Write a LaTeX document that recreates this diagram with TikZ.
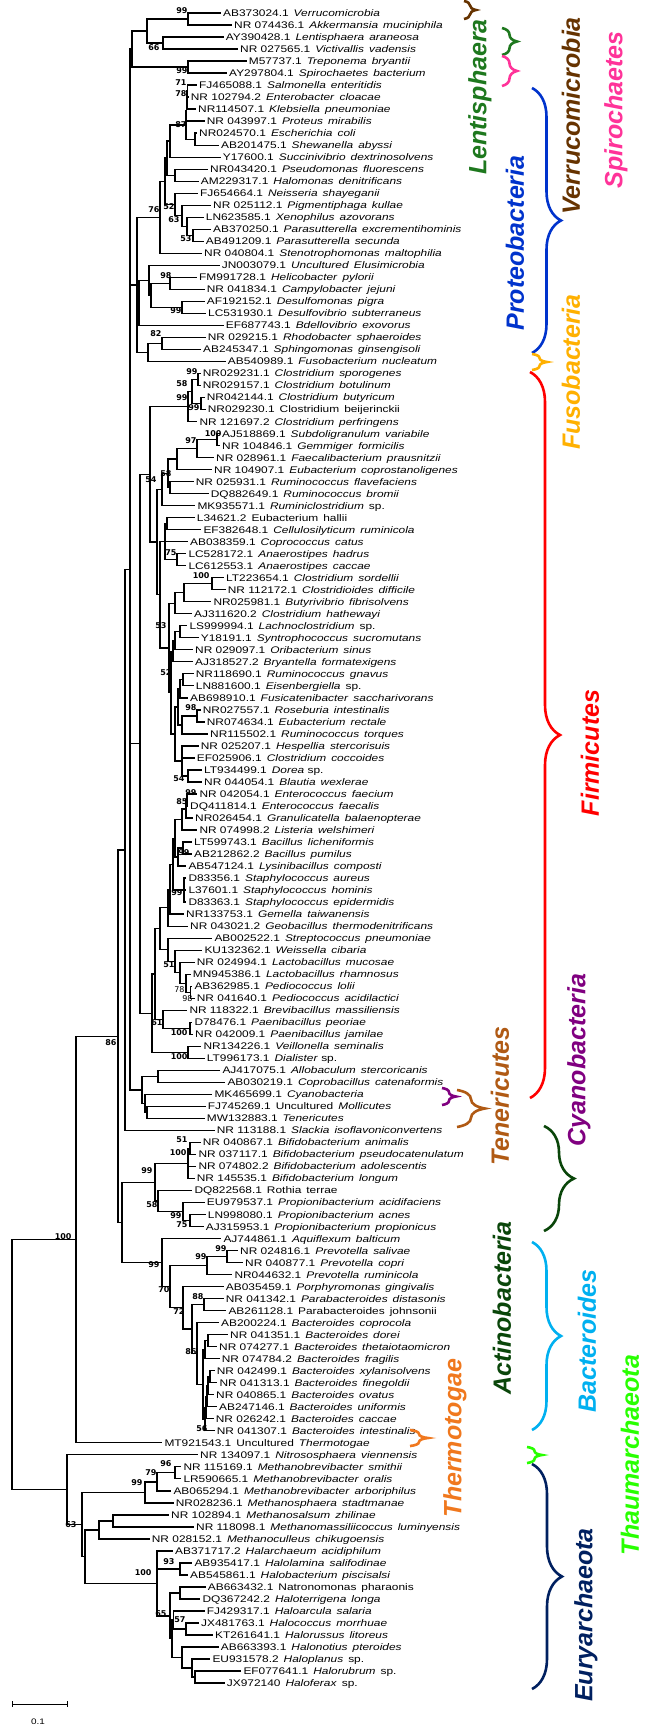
\documentclass[tikz,border=0pt]{standalone}
\usepackage{fontspec}
\setmainfont{Liberation Sans}[FakeStretch=1.24]
\newfontfamily\bsf{DejaVu Sans}
\newfontfamily\grpf{Liberation Sans}
\usetikzlibrary{calc,decorations.pathreplacing}
\definecolor{cverr}{RGB}{102,51,0}
\definecolor{clent}{RGB}{30,120,30}
\definecolor{cspir}{RGB}{255,51,153}
\definecolor{cprot}{RGB}{0,51,204}
\definecolor{cfuso}{RGB}{255,176,0}
\definecolor{cfirm}{RGB}{255,0,0}
\definecolor{ccyan}{RGB}{128,0,128}
\definecolor{ctene}{RGB}{176,90,20}
\definecolor{cacti}{RGB}{10,70,10}
\definecolor{cbact}{RGB}{0,176,240}
\definecolor{cthau}{RGB}{40,255,0}
\definecolor{cther}{RGB}{240,120,30}
\definecolor{ceury}{RGB}{0,32,96}
\newcommand\myit[1]{\textit{#1}}
\newcommand\mygap{\hspace{5pt}}
\newcommand\leaf[3]{%
  \coordinate (L#1) at (#2,{13+12.015*(#1-1)});
  \node[leaf] (T#1) at (#2,{16.5+12.015*(#1-1)}) {#3};}
\newcommand\nd[5]{%
  \coordinate (tmpA) at ($(#3)!0.5!(#4)$);
  \coordinate (tmpB) at (#2,0);
  \coordinate (#1) at (tmpA -| tmpB);
  \foreach \c in {#5} {\draw[tree] (#1) |- (\c);}}
\newcommand\bs[4]{\node[bs] (#1) at (#2,#3) {#4};}
\begin{document}
\begin{tikzpicture}[x=1pt,y=-1pt,
  tree/.style={line width=1.3pt},
  leaf/.style={anchor=base west, inner xsep=2pt, inner ysep=0pt, font=\fontsize{9.6}{10}\selectfont},
  bs/.style={anchor=east, inner sep=0.3pt, font=\bsf\bfseries\fontsize{8}{8}\selectfont},
  bsr/.style={anchor=east, inner sep=0.3pt, font=\bsf\fontsize{8}{8}\selectfont},
  grp/.style={rotate=90, inner sep=0pt, font=\grpf\bfseries\itshape\fontsize{25}{25}\selectfont},
  brc/.style={decorate, decoration={brace, amplitude=#1}, line width=2.6pt}]
\fill[white] (0,0) rectangle (648,1731);
\useasboundingbox (0,0) rectangle (648,1731);
% ---------- leaves ----------
\leaf{1}{221}{AB373024.1\mygap\myit{Verrucomicrobia}}
\leaf{2}{232}{NR 074436.1\mygap\myit{Akkermansia}\mygap\myit{muciniphila}}
\leaf{3}{223.7}{AY390428.1\mygap\myit{Lentisphaera}\mygap\myit{araneosa}}
\leaf{4}{238}{NR 027565.1\mygap\myit{Victivallis}\mygap\myit{vadensis}}
\leaf{5}{246.7}{M57737.1\mygap\myit{Treponema}\mygap\myit{bryantii}}
\leaf{6}{227}{AY297804.1\mygap\myit{Spirochaetes}\mygap\myit{bacterium}}
\leaf{7}{197}{FJ465088.1\mygap\myit{Salmonella}\mygap\myit{enteritidis}}
\leaf{8}{188.7}{NR 102794.2\mygap\myit{Enterobacter}\mygap\myit{cloacae}}
\leaf{9}{196}{NR114507.1\mygap\myit{Klebsiella}\mygap\myit{pneumoniae}}
\leaf{10}{204.7}{NR 043997.1\mygap\myit{Proteus}\mygap\myit{mirabilis}}
\leaf{11}{197}{NR024570.1\mygap\myit{Escherichia}\mygap\myit{coli}}
\leaf{12}{219}{AB201475.1\mygap\myit{Shewanella}\mygap\myit{abyssi}}
\leaf{13}{220.7}{Y17600.1\mygap\myit{Succinivibrio}\mygap\myit{dextrinosolvens}}
\leaf{14}{208}{NR043420.1\mygap\myit{Pseudomonas}\mygap\myit{fluorescens}}
\leaf{15}{198.7}{AM229317.1\mygap\myit{Halomonas}\mygap\myit{denitrificans}}
\leaf{16}{198}{FJ654664.1\mygap\myit{Neisseria}\mygap\myit{shayeganii}}
\leaf{17}{211}{NR 025112.1\mygap\myit{Pigmentiphaga}\mygap\myit{kullae}}
\leaf{18}{203.7}{LN623585.1\mygap\myit{Xenophilus}\mygap\myit{azovorans}}
\leaf{19}{211}{AB370250.1\mygap\myit{Parasutterella}\mygap\myit{excrementihominis}}
\leaf{20}{203.7}{AB491209.1\mygap\myit{Parasutterella}\mygap\myit{secunda}}
\leaf{21}{202}{NR 040804.1\mygap\myit{Stenotrophomonas}\mygap\myit{maltophilia}}
\leaf{22}{219.7}{JN003079.1\mygap\myit{Uncultured}\mygap\myit{Elusimicrobia}}
\leaf{23}{197}{FM991728.1\mygap\myit{Helicobacter}\mygap\myit{pylorii}}
\leaf{24}{204.7}{NR 041834.1\mygap\myit{Campylobacter}\mygap\myit{jejuni}}
\leaf{25}{204.7}{AF192152.1\mygap\myit{Desulfomonas}\mygap\myit{pigra}}
\leaf{26}{206}{LC531930.1\mygap\myit{Desulfovibrio}\mygap\myit{subterraneus}}
\leaf{27}{223.7}{EF687743.1\mygap\myit{Bdellovibrio}\mygap\myit{exovorus}}
\leaf{28}{205.7}{NR 029215.1\mygap\myit{Rhodobacter}\mygap\myit{sphaeroides}}
\leaf{29}{201}{AB245347.1\mygap\myit{Sphingomonas}\mygap\myit{ginsengisoli}}
\leaf{30}{225.7}{AB540989.1\mygap\myit{Fusobacterium}\mygap\myit{nucleatum}}
\leaf{31}{200.7}{NR029231.1\mygap\myit{Clostridium}\mygap\myit{sporogenes}}
\leaf{32}{200.7}{NR029157.1\mygap\myit{Clostridium}\mygap\myit{botulinum}}
\leaf{33}{204.7}{NR042144.1\mygap\myit{Clostridium}\mygap\myit{butyricum}}
\leaf{34}{205.7}{NR029230.1\mygap Clostridium\mygap beijerinckii}
\leaf{35}{197.3}{NR 121697.2\mygap\myit{Clostridium}\mygap\myit{perfringens}}
\leaf{36}{220}{AJ518869.1\mygap\myit{Subdoligranulum}\mygap\myit{variabile}}
\leaf{37}{220}{NR 104846.1\mygap\myit{Gemmiger}\mygap\myit{formicilis}}
\leaf{38}{214}{NR 028961.1\mygap\myit{Faecalibacterium}\mygap\myit{prausnitzii}}
\leaf{39}{212}{NR 104907.1\mygap\myit{Eubacterium}\mygap\myit{coprostanoligenes}}
\leaf{40}{193.7}{NR 025931.1\mygap\myit{Ruminococcus}\mygap\myit{flavefaciens}}
\leaf{41}{208.7}{DQ882649.1\mygap\myit{Ruminococcus}\mygap\myit{bromii}}
\leaf{42}{195.3}{MK935571.1\mygap\myit{Ruminiclostridium}\mygap sp.}
\leaf{43}{194.7}{L34621.2\mygap Eubacterium\mygap hallii}
\leaf{44}{201.3}{EF382648.1\mygap\myit{Cellulosilyticum}\mygap\myit{ruminicola}}
\leaf{45}{188}{AB038359.1\mygap\myit{Coprococcus}\mygap\myit{catus}}
\leaf{46}{186.3}{LC528172.1\mygap\myit{Anaerostipes}\mygap\myit{hadrus}}
\leaf{47}{186.3}{LC612553.1\mygap\myit{Anaerostipes}\mygap\myit{caccae}}
\leaf{48}{224}{LT223654.1\mygap\myit{Clostridium}\mygap\myit{sordellii}}
\leaf{49}{225.7}{NR 112172.1\mygap\myit{Clostridioides}\mygap\myit{difficile}}
\leaf{50}{211.3}{NR025981.1\mygap\myit{Butyrivibrio}\mygap\myit{fibrisolvens}}
\leaf{51}{192}{AJ311620.2\mygap\myit{Clostridium}\mygap\myit{hathewayi}}
\leaf{52}{187.3}{LS999994.1\mygap\myit{Lachnoclostridium}\mygap sp.}
\leaf{53}{198.7}{Y18191.1\mygap\myit{Syntrophococcus}\mygap\myit{sucromutans}}
\leaf{54}{193}{NR 029097.1\mygap\myit{Oribacterium}\mygap\myit{sinus}}
\leaf{55}{193}{AJ318527.2\mygap\myit{Bryantella}\mygap\myit{formatexigens}}
\leaf{56}{193.7}{NR118690.1\mygap\myit{Ruminococcus}\mygap\myit{gnavus}}
\leaf{57}{193.7}{LN881600.1\mygap\myit{Eisenbergiella}\mygap sp.}
\leaf{58}{188}{AB698910.1\mygap\myit{Fusicatenibacter}\mygap\myit{saccharivorans}}
\leaf{59}{200.7}{NR027557.1\mygap\myit{Roseburia}\mygap\myit{intestinalis}}
\leaf{60}{204.7}{NR074634.1\mygap\myit{Eubacterium}\mygap\myit{rectale}}
\leaf{61}{208}{NR115502.1\mygap\myit{Ruminococcus}\mygap\myit{torques}}
\leaf{62}{198.7}{NR 025207.1\mygap\myit{Hespellia}\mygap\myit{stercorisuis}}
\leaf{63}{194.7}{EF025906.1\mygap\myit{Clostridium}\mygap\myit{coccoides}}
\leaf{64}{202}{LT934499.1\mygap\myit{Dorea} sp.}
\leaf{65}{202}{NR 044054.1\mygap\myit{Blautia}\mygap\myit{wexlerae}}
\leaf{66}{197.3}{NR 042054.1\mygap\myit{Enterococcus}\mygap\myit{faecium}}
\leaf{67}{188}{DQ411814.1\mygap\myit{Enterococcus}\mygap\myit{faecalis}}
\leaf{68}{193}{NR026454.1\mygap\myit{Granulicatella}\mygap\myit{balaenopterae}}
\leaf{69}{197.3}{NR 074998.2\mygap\myit{Listeria}\mygap\myit{welshimeri}}
\leaf{70}{192}{LT599743.1\mygap\myit{Bacillus}\mygap\myit{licheniformis}}
\leaf{71}{192}{AB212862.2\mygap\myit{Bacillus}\mygap\myit{pumilus}}
\leaf{72}{186.3}{AB547124.1\mygap\myit{Lysinibacillus}\mygap\myit{composti}}
\leaf{73}{186.3}{D83356.1\mygap\myit{Staphylococcus}\mygap\myit{aureus}}
\leaf{74}{186.3}{L37601.1\mygap\myit{Staphylococcus}\mygap\myit{hominis}}
\leaf{75}{186.3}{D83363.1\mygap\myit{Staphylococcus}\mygap\myit{epidermidis}}
\leaf{76}{184}{NR133753.1\mygap\myit{Gemella}\mygap\myit{taiwanensis}}
\leaf{77}{188}{NR 043021.2\mygap\myit{Geobacillus}\mygap\myit{thermodenitrificans}}
\leaf{78}{212.3}{AB002522.1\mygap\myit{Streptococcus}\mygap\myit{pneumoniae}}
\leaf{79}{202.3}{KU132362.1\mygap\myit{Weissella}\mygap\myit{cibaria}}
\leaf{80}{194.7}{NR 024994.1\mygap\myit{Lactobacillus}\mygap\myit{mucosae}}
\leaf{81}{190.7}{MN945386.1\mygap\myit{Lactobacillus}\mygap\myit{rhamnosus}}
\leaf{82}{192.3}{AB362985.1\mygap\myit{Pediococcus}\mygap\myit{lolii}}
\leaf{83}{194.7}{NR 041640.1\mygap\myit{Pediococcus}\mygap\myit{acidilactici}}
\leaf{84}{187.3}{NR 118322.1\mygap\myit{Brevibacillus}\mygap\myit{massiliensis}}
\leaf{85}{192.3}{D78476.1\mygap\myit{Paenibacillus}\mygap\myit{peoriae}}
\leaf{86}{193}{NR 042009.1\mygap\myit{Paenibacillus}\mygap\myit{jamilae}}
\leaf{87}{201.3}{NR134226.1\mygap\myit{Veillonella}\mygap\myit{seminalis}}
\leaf{88}{204.7}{LT996173.1\mygap\myit{Dialister} sp.}
\leaf{89}{220.3}{AJ417075.1\mygap\myit{Allobaculum}\mygap\myit{stercoricanis}}
\leaf{90}{225.3}{AB030219.1\mygap\myit{Coprobacillus}\mygap\myit{catenaformis}}
\leaf{91}{212.3}{MK465699.1\mygap\myit{Cyanobacteria}}
\leaf{92}{205.7}{FJ745269.1\mygap Uncultured\mygap\myit{Mollicutes}}
\leaf{93}{204.7}{MW132883.1\mygap\myit{Tenericutes}}
\leaf{94}{214.7}{NR 113188.1\mygap\myit{Slackia}\mygap\myit{isoflavoniconvertens}}
\leaf{95}{200.7}{NR 040867.1\mygap\myit{Bifidobacterium}\mygap\myit{animalis}}
\leaf{96}{196.3}{NR 037117.1\mygap\myit{Bifidobacterium}\mygap\myit{pseudocatenulatum}}
\leaf{97}{196.3}{NR 074802.2\mygap\myit{Bifidobacterium}\mygap\myit{adolescentis}}
\leaf{98}{194.7}{NR 145535.1\mygap\myit{Bifidobacterium}\mygap\myit{longum}}
\leaf{99}{192.3}{DQ822568.1\mygap Rothia\mygap terrae}
\leaf{100}{204.7}{EU979537.1\mygap\myit{Propionibacterium}\mygap\myit{acidifaciens}}
\leaf{101}{205.7}{LN998080.1\mygap\myit{Propionibacterium}\mygap\myit{acnes}}
\leaf{102}{203.7}{AJ315953.1\mygap\myit{Propionibacterium}\mygap\myit{propionicus}}
\leaf{103}{221.3}{AJ744861.1\mygap\myit{Aquiflexum}\mygap\myit{balticum}}
\leaf{104}{238}{NR 024816.1\mygap\myit{Prevotella}\mygap\myit{salivae}}
\leaf{105}{243}{NR 040877.1\mygap\myit{Prevotella}\mygap\myit{copri}}
\leaf{106}{232.3}{NR044632.1\mygap\myit{Prevotella}\mygap\myit{ruminicola}}
\leaf{107}{223.7}{AB035459.1\mygap\myit{Porphyromonas}\mygap\myit{gingivalis}}
\leaf{108}{223.7}{NR 041342.1\mygap\myit{Parabacteroides}\mygap\myit{distasonis}}
\leaf{109}{226.3}{AB261128.1\mygap Parabacteroides\mygap johnsonii}
\leaf{110}{219}{AB200224.1\mygap\myit{Bacteroides}\mygap\myit{coprocola}}
\leaf{111}{228}{NR 041351.1\mygap\myit{Bacteroides}\mygap\myit{dorei}}
\leaf{112}{217}{NR 074277.1\mygap\myit{Bacteroides}\mygap\myit{thetaiotaomicron}}
\leaf{113}{219.7}{NR 074784.2\mygap\myit{Bacteroides}\mygap\myit{fragilis}}
\leaf{114}{214.7}{NR 042499.1\mygap\myit{Bacteroides}\mygap\myit{xylanisolvens}}
\leaf{115}{217.3}{NR 041313.1\mygap\myit{Bacteroides}\mygap\myit{finegoldii}}
\leaf{116}{214}{NR 040865.1\mygap\myit{Bacteroides}\mygap\myit{ovatus}}
\leaf{117}{217}{AB247146.1\mygap\myit{Bacteroides}\mygap\myit{uniformis}}
\leaf{118}{213.7}{NR 026242.1\mygap\myit{Bacteroides}\mygap\myit{caccae}}
\leaf{119}{214.7}{NR 041307.1\mygap\myit{Bacteroides}\mygap\myit{intestinalis}}
\leaf{120}{162.3}{MT921543.1\mygap Uncultured\mygap\myit{Thermotogae}}
\leaf{121}{198}{NR 134097.1\mygap\myit{Nitrososphaera}\mygap\myit{viennensis}}
\leaf{122}{181.3}{NR 115169.1\mygap\myit{Methanobrevibacter}\mygap\myit{smithii}}
\leaf{123}{181.3}{LR590665.1\mygap\myit{Methanobrevibacter}\mygap\myit{oralis}}
\leaf{124}{171.3}{AB065294.1\mygap\myit{Methanobrevibacter}\mygap\myit{arboriphilus}}
\leaf{125}{173.7}{NR028236.1\mygap\myit{Methanosphaera}\mygap\myit{stadtmanae}}
\leaf{126}{169}{NR 102894.1\mygap\myit{Methanosalsum}\mygap\myit{zhilinae}}
\leaf{127}{194}{NR 118098.1\mygap\myit{Methanomassiliicoccus}\mygap\myit{luminyensis}}
\leaf{128}{149.7}{NR 028152.1\mygap\myit{Methanoculleus}\mygap\myit{chikugoensis}}
\leaf{129}{173}{AB371717.2\mygap\myit{Halarchaeum}\mygap\myit{acidiphilum}}
\leaf{130}{192.3}{AB935417.1\mygap\myit{Halolamina}\mygap\myit{salifodinae}}
\leaf{131}{188}{AB545861.1\mygap\myit{Halobacterium}\mygap\myit{piscisalsi}}
\leaf{132}{205.7}{AB663432.1\mygap Natronomonas\mygap pharaonis}
\leaf{133}{200.3}{DQ367242.2\mygap\myit{Haloterrigena}\mygap\myit{longa}}
\leaf{134}{204.7}{FJ429317.1\mygap\myit{Haloarcula}\mygap\myit{salaria}}
\leaf{135}{199}{JX481763.1\mygap\myit{Halococcus}\mygap\myit{morrhuae}}
\leaf{136}{213}{KT261641.1\mygap\myit{Halorussus}\mygap\myit{litoreus}}
\leaf{137}{218.7}{AB663393.1\mygap\myit{Halonotius}\mygap\myit{pteroides}}
\leaf{138}{210.3}{EU931578.2\mygap\myit{Haloplanus}\mygap sp.}
\leaf{139}{241.3}{EF077641.1\mygap\myit{Halorubrum}\mygap sp.}
\leaf{140}{224.7}{JX972140\mygap\myit{Haloferax}\mygap sp.}
% ---------- internal nodes ----------
\nd{a1}{188}{L1}{L2}{L1,L2}
\nd{a2}{163}{L3}{L4}{L3,L4}
\nd{a3}{147}{a1}{a2}{a1,a2}
\nd{a4}{188}{L5}{L6}{L5,L6}
\nd{a5}{132}{a3}{a4}{a3,a4}
\nd{b1}{187.5}{L7}{L8}{L7,L8}
\nd{b2}{187}{b1}{L9}{b1,L9}
\nd{b3}{186.5}{b2}{L10}{b2,L10}
\nd{c1}{195}{L11}{L12}{L11,L12}
\nd{c2}{186}{b3}{c1}{b3,c1}
\nd{c3}{170}{c2}{L13}{c2,L13}
\nd{d1}{175}{L14}{L15}{L14,L15}
\nd{g1}{167}{c3}{d1}{c3,d1}
\nd{e1}{193}{L19}{L20}{L19,L20}
\nd{e2}{187}{L18}{e1}{L18,e1}
\nd{e3}{182}{L17}{e2}{L17,e2}
\nd{e4}{175}{L16}{e3}{L16,e3}
\nd{g2}{165}{g1}{e4}{g1,e4}
\nd{f1}{160}{g2}{L21}{g2,L21}
\nd{i1}{170}{L23}{L24}{L23,L24}
\nd{i2}{182}{L25}{L26}{L25,L26}
\nd{i3}{151}{i1}{i2}{i1,i2}
\nd{j1}{149}{L22}{i3}{L22,i3}
\nd{j2}{139}{j1}{L27}{j1,L27}
\nd{l1}{162}{L28}{L29}{L28,L29}
\nd{l2}{148}{l1}{L30}{l1,L30}
\nd{P}{137}{f1}{l2}{f1,j2,l2}
\nd{m1}{198}{L31}{L32}{L31,L32}
\nd{m2}{201}{L33}{L34}{L33,L34}
\nd{m3}{192}{m1}{m2}{m1,m2}
\nd{m4}{188}{m3}{L35}{m3,L35}
\nd{n1}{217}{L36}{L37}{L36,L37}
\nd{n2}{197}{n1}{L38}{n1,L38}
\nd{n3}{177}{n2}{L39}{n2,L39}
\nd{n4}{170}{L40}{L41}{L40,L41}
\nd{n5}{168}{n3}{n4}{n3,n4}
\nd{n6}{162}{n5}{L42}{n5,L42}
\nd{q1}{167}{L43}{L44}{L43,L44}
\nd{q2}{177}{L46}{L47}{L46,L47}
\nd{La}{165}{q1}{q2}{q1,L45,q2}
\nd{q3}{212}{L48}{L49}{L48,L49}
\nd{q4}{184}{q3}{L50}{q3,L50}
\nd{q5}{175}{q4}{L51}{q4,L51}
\nd{r1}{180}{L52}{L53}{L52,L53}
\nd{r2}{175}{r1}{L54}{r1,L54}
\nd{r3}{173}{r2}{L55}{r2,L55}
\nd{r4}{183}{L56}{L57}{L56,L57}
\nd{r5}{180}{r4}{L58}{r4,L58}
\nd{r6}{197}{L59}{L60}{L59,L60}
\nd{r7}{182}{r6}{L61}{r6,L61}
\nd{r8}{178}{r5}{r7}{r5,r7}
\nd{r9}{188}{L64}{L65}{L64,L65}
\nd{r10}{182}{L62}{r9}{L62,L63,r9}
\nd{r11}{175}{r8}{r10}{r8,r10}
\nd{r12}{171}{r3}{r11}{r3,r11}
\nd{Lc}{169}{q5}{r12}{q5,r12}
\nd{Lach}{160}{La}{Lc}{La,Lc}
\nd{K0}{157}{n6}{Lach}{n6,Lach}
\nd{K1}{150}{m4}{K0}{m4,K0}
\nd{s1}{187}{L66}{L67}{L66,L67}
\nd{s2}{186}{s1}{L68}{s1,L68}
\nd{s3}{182}{s2}{L69}{s2,L69}
\nd{s4}{183}{L70}{L71}{L70,L71}
\nd{s5}{178}{s4}{L72}{s4,L72}
\nd{s6}{175}{s3}{s5}{s3,s5}
\nd{s7}{184}{L73}{L75}{L73,L74,L75}
\nd{s8}{173}{s6}{s7}{s6,s7}
\nd{s9}{170}{s8}{L76}{s8,L76}
\nd{s10}{168}{s9}{L77}{s9,L77}
\nd{u1}{190.5}{L82}{L83}{L82,L83}
\nd{u2}{186}{L81}{u1}{L81,u1}
\nd{u3}{180}{L80}{u2}{L80,u2}
\nd{u4}{175}{L79}{u3}{L79,u3}
\nd{u5}{168}{L78}{u4}{L78,u4}
\nd{w0}{160}{s10}{u5}{s10,u5}
\nd{v1}{190}{L85}{L86}{L85,L86}
\nd{v2}{163}{L84}{v1}{L84,v1}
\nd{w1a}{155}{w0}{v2}{w0,v2}
\nd{v3}{188}{L87}{L88}{L87,L88}
\nd{w1}{152}{w1a}{v3}{w1a,v3}
\nd{K2}{140}{K1}{w1}{K1,w1}
\nd{x1}{158}{L89}{L90}{L89,L90}
\nd{y1}{147}{L92}{L93}{L92,L93}
\nd{y2}{145}{L91}{y1}{L91,y1}
\nd{y3}{142}{x1}{y2}{x1,y2}
\nd{W}{130}{a5}{y3}{a5,P,K2,y3}
\nd{U}{125}{W}{L94}{W,L94}
\nd{aa1}{190}{L95}{L96}{L95,L96}
\nd{aa2}{188}{aa1}{L98}{aa1,L97,L98}
\nd{ab1}{190}{L101}{L102}{L101,L102}
\nd{ab2}{183}{L100}{ab1}{L100,ab1}
\nd{ab3}{158}{L99}{ab2}{L99,ab2}
\nd{aa4}{155}{aa2}{ab3}{aa2,ab3}
\nd{ba1}{227}{L104}{L105}{L104,L105}
\nd{ba2}{207}{ba1}{L106}{ba1,L106}
\nd{bb1}{204}{L108}{L109}{L108,L109}
\nd{bc1}{208}{L111}{L112}{L111,L112}
\nd{bc2}{205}{bc1}{L113}{bc1,L113}
\nd{bc3}{210}{L114}{L115}{L114,L115}
\nd{bc4}{208}{bc3}{L116}{bc3,L116}
\nd{bc5}{207}{bc4}{L117}{bc4,L117}
\nd{bc6}{206}{bc5}{L118}{bc5,L118}
\nd{bc7}{205}{bc6}{L119}{bc6,L119}
\nd{bc8}{203}{bc2}{bc7}{bc2,bc7}
\nd{bd1}{197}{L110}{bc8}{L110,bc8}
\nd{be1}{192}{bb1}{bd1}{bb1,bd1}
\nd{be2}{183}{L107}{be1}{L107,be1}
\nd{ba3}{170}{ba2}{be2}{ba2,be2}
\nd{ba4}{162}{L103}{ba3}{L103,ba3}
\nd{Lw}{122}{aa4}{ba4}{aa4,ba4}
\nd{N86}{118}{U}{Lw}{U,Lw}
\nd{N100}{76}{N86}{L120}{N86,L120}
\nd{ar1}{175}{L122}{L123}{L122,L123}
\nd{ar2}{157}{ar1}{L124}{ar1,L124}
\nd{ar3}{145}{ar2}{L125}{ar2,L125}
\nd{ar4}{113}{L126}{L127}{L126,L127}
\nd{ar5}{99}{ar4}{L128}{ar4,L128}
\nd{hb1}{180}{L130}{L131}{L130,L131}
\nd{hc1}{180}{L132}{L133}{L132,L133}
\nd{hd1}{186}{L135}{L136}{L135,L136}
\nd{hf1}{173.5}{L134}{hd1}{L134,hd1}
\nd{he1}{195}{L139}{L140}{L139,L140}
\nd{he2}{192}{L138}{he1}{L138,he1}
\nd{he3}{182}{L137}{he2}{L137,he2}
\nd{hf2}{172}{hf1}{he3}{hf1,he3}
\nd{hg}{170}{hc1}{hf2}{hc1,hf2}
\nd{hh}{157}{L129}{hg}{L129,hb1,hg}
\nd{ar7}{85}{ar5}{hh}{ar5,hh}
\nd{ar6}{82}{ar3}{ar7}{ar3,ar7}
\nd{A}{67}{L121}{ar6}{L121,ar6}
\nd{R}{12}{N100}{A}{N100,A}
% ---------- bootstrap values ----------
\bs{b01}{188}{11}{99}
\bs{b02}{160}{48}{66}
\bs{b03}{188}{71}{99}
\bs{b04}{187}{83}{71}
\bs{b05}{187}{94}{78}
\bs{b06}{187}{125}{87}
\bs{b07}{160}{210}{76}
\bs{b08}{175}{207}{52}
\bs{b09}{180}{220}{63}
\bs{b10}{192}{239}{53}
\bs{b11}{172}{276}{98}
\bs{b12}{182}{311}{99}
\bs{b13}{162}{334}{82}
\bs{b14}{198}{372}{99}
\bs{b15}{188}{384}{58}
\bs{b16}{188}{398}{99}
\bs{b17}{200}{408}{99}
\bs{b18}{222}{434}{100}
\bs{b19}{197}{441}{97}
\bs{b20}{172}{474}{58}
\bs{b21}{157}{480}{54}
\bs{b22}{177}{553}{75}
\bs{b23}{210}{576}{100}
\bs{b24}{167}{626}{53}
\bs{b25}{172}{673}{52}
\bs{b26}{197}{708}{98}
\bs{b27}{185}{779}{54}
\bs{b28}{197}{793}{99}
\bs{b29}{188}{802}{85}
\bs{b30}{190}{853}{99}
\bs{b31}{183}{893}{99}
\bs{b32}{175}{965}{51}
\node[bsr] (b33) at (185,990) {78};
\node[bsr] (b34) at (193,999) {98};
\bs{b35}{163}{1023}{61}
\bs{b36}{188}{1033}{100}
\bs{b37}{188}{1057}{100}
\bs{b38}{117}{1043}{86}
\bs{b39}{188}{1140}{51}
\bs{b40}{187}{1153}{100}
\bs{b41}{153}{1171}{99}
\bs{b42}{158}{1205}{58}
\bs{b43}{182}{1216}{99}
\bs{b44}{188}{1225}{75}
\bs{b45}{72}{1237}{100}
\bs{b46}{227}{1249}{99}
\bs{b47}{207}{1257}{99}
\bs{b48}{160}{1265}{99}
\bs{b49}{170}{1290}{70}
\bs{b50}{204}{1297}{88}
\bs{b51}{185}{1312}{72}
\bs{b52}{197}{1352}{86}
\bs{b53}{208}{1429}{56}
\bs{b54}{172}{1464}{96}
\bs{b55}{157}{1473}{79}
\bs{b56}{143}{1483}{99}
\bs{b57}{77}{1525}{63}
\bs{b58}{175}{1562}{93}
\bs{b59}{152}{1573}{100}
\bs{b60}{167}{1614}{65}
\bs{b61}{186}{1620}{57}
% ---------- scale bar ----------
\coordinate (sb1) at (12,1704);
\coordinate (sb2) at (67,1704);
\draw[line width=0.8pt] (sb1) -- (sb2);
\draw[line width=0.8pt] ($(sb1)+(0,-3)$) -- ($(sb1)+(0,3)$);
\draw[line width=0.8pt] ($(sb2)+(0,-3)$) -- ($(sb2)+(0,3)$);
\node[font=\fontsize{8}{8}\selectfont, inner sep=0pt] (sbl) at (38,1722) {0.1};
% ---------- braces ----------
\draw[brc=12, cverr] (464,1) -- (464,19);
\draw[brc=15, clent] (502,28) -- (502,55);
\draw[brc=15, cspir] (502,56) -- (502,86);
\draw[brc=29, cprot] (532,88) -- (532,353);
\draw[brc=15, cfuso] (532,354) -- (532,370);
\draw[brc=30, cfirm] (530,372) -- (530,1098);
\draw[brc=14, ccyan] (442,1088) -- (442,1105);
\draw[brc=28, ctene] (457,1090) -- (457,1127);
\draw[brc=30, cacti] (544,1126) -- (544,1231);
\draw[brc=29, cbact] (532,1242) -- (532,1430);
\draw[brc=18, cther] (410,1430) -- (410,1446);
\draw[brc=15, cthau] (527,1447) -- (527,1463);
\draw[brc=30, ceury] (532,1464) -- (532,1689);
% ---------- group labels ----------
\node[grp, clent] (gLent) at (480,97) {Lentisphaera};
\node[grp, cverr] (gVerr) at (571,116) {Verrucomicrobia};
\node[grp, cspir] (gSpir) at (616,110) {Spirochaetes};
\node[grp, cprot] (gProt) at (515,243) {Proteobacteria};
\node[grp, cfuso] (gFuso) at (571,372) {Fusobacteria};
\node[grp, cfirm] (gFirm) at (590,753) {Firmicutes};
\node[grp, ccyan] (gCyan) at (579,1060) {Cyanobacteria};
\node[grp, ctene] (gTene) at (500,1096) {Tenericutes};
\node[grp, cacti] (gActi) at (502,1308) {Actinobacteria};
\node[grp, cbact] (gBact) at (587,1341) {Bacteroides};
\node[grp, cthau] (gThau) at (630,1455) {Thaumarchaeota};
\node[grp, cther] (gTher) at (455,1438) {Thermotogae};
\node[grp, ceury] (gEury) at (586,1615) {Euryarchaeota};
\end{tikzpicture}
\end{document}
